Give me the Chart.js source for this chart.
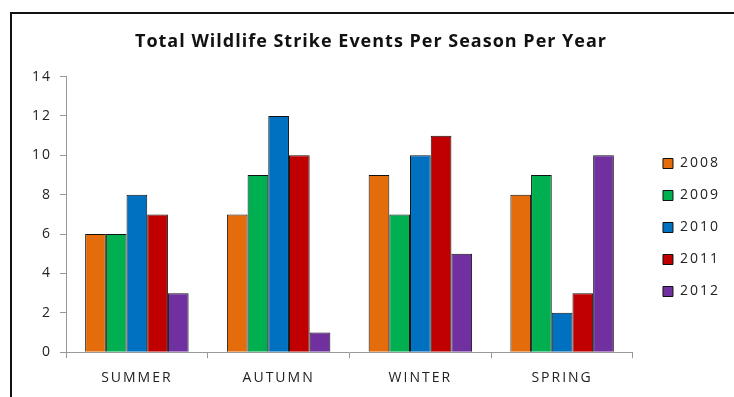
<!DOCTYPE html>
<html lang="en">
<head>
  <meta charset="UTF-8" />
  <title>Total Wildlife Strike Events Per Season Per Year</title>
  <script src="https://cdn.jsdelivr.net/npm/chart.js"></script>
  <style>
    body {
      margin: 0;
      background: #fff;
    }

    .frame {
      position: absolute;
      left: 10px;
      top: 12px;
      width: 760px;
      height: 420px;
      border: 2px solid #111;
      box-sizing: border-box;
    }

    .chart-box {
      position: absolute;
      left: 0;
      top: 0;
      width: 734px;
      height: 397px;
    }
  </style>
</head>
<body>
  <div class="frame"></div>
  <div class="chart-box"><canvas id="strikeChart"></canvas></div>

  <script>
    const seasons = ["SUMMER", "AUTUMN", "WINTER", "SPRING"];
    const years = ["2008", "2009", "2010", "2011", "2012"];

    const strikes2008 = [6, 7, 9, 8];
    const strikes2009 = [6, 9, 7, 9];
    const strikes2010 = [8, 12, 10, 2];
    const strikes2011 = [7, 10, 11, 3];
    const strikes2012 = [3, 1, 5, 10];

    const yearColors = ["#E46C0A", "#00B050", "#0070C0", "#C00000", "#7030A0"];
    const allSeries = [strikes2008, strikes2009, strikes2010, strikes2011, strikes2012];

    const datasets = years.map((year, i) => ({
      label: year,
      data: allSeries[i],
      backgroundColor: yearColors[i],
      borderColor: "#111",
      borderWidth: 1,
      barPercentage: 1,
      categoryPercentage: 0.73
    }));

    // the old Excel picture has wide, loose text: spread the letters a bit
    const canvas = document.getElementById("strikeChart");
    const ctx = canvas.getContext("2d");
    const origFill = ctx.fillText;
    const origMeasure = ctx.measureText;
    function setSpacing(c) {
      c.letterSpacing = c.font.indexOf("bold") >= 0 ? "1px" : "2px";
    }
    ctx.fillText = function (t, x, y, w) {
      setSpacing(this);
      return w === undefined ? origFill.call(this, t, x, y) : origFill.call(this, t, x, y, w);
    };
    ctx.measureText = function (t) {
      setSpacing(this);
      return origMeasure.call(this, t);
    };

    // push the legend away from the plot, like in the original
    const legendShift = {
      id: "legendShift",
      afterLayout(chart) {
        const lg = chart.legend;
        lg.left += 12;
        lg.right += 12;
        lg.top += 29;
        lg.bottom += 29;
      }
    };

    new Chart(ctx, {
      type: "bar",
      data: { labels: seasons, datasets: datasets },
      plugins: [legendShift],
      options: {
        responsive: true,
        maintainAspectRatio: false,
        animation: false,
        layout: {
          padding: { left: 24, right: 16, top: 0, bottom: 0 }
        },
        plugins: {
          title: {
            display: true,
            text: "Total Wildlife Strike Events Per Season Per Year",
            color: "#111",
            font: { family: "Open Sans", size: 18, weight: "bold" },
            padding: { top: 31, bottom: 24 }
          },
          legend: {
            position: "right",
            labels: {
              color: "#222",
              font: { family: "Open Sans", size: 14 },
              boxWidth: 10,
              boxHeight: 10,
              padding: 18
            }
          },
          tooltip: { enabled: false }
        },
        scales: {
          x: {
            offset: true,
            grid: {
              offset: true,
              drawOnChartArea: false,
              color: "#999",
              tickLength: 6
            },
            border: { color: "#999" },
            ticks: {
              color: "#222",
              font: { family: "Open Sans", size: 14 },
              padding: 11
            }
          },
          y: {
            min: 0,
            max: 14,
            grid: {
              drawOnChartArea: false,
              color: "#999",
              tickLength: 6
            },
            border: { color: "#999" },
            ticks: {
              stepSize: 2,
              color: "#222",
              font: { family: "Open Sans", size: 14 },
              padding: 8
            }
          }
        }
      }
    });
  </script>
</body>
</html>
